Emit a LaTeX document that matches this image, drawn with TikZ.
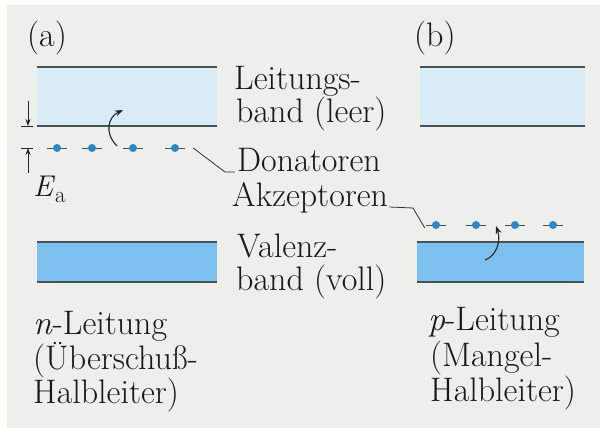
\documentclass[tikz,border=0pt]{standalone}
\usepackage{fontspec}
\usetikzlibrary{arrows.meta}

\definecolor{paper}{HTML}{EEEEEA}
\definecolor{leer}{HTML}{D8ECF8}
\definecolor{voll}{HTML}{7CC0F0}
\definecolor{niveau}{HTML}{2A88C8}
\definecolor{linie}{HTML}{4A5058}

\tikzset{
  txt/.style={anchor=base west, inner sep=0pt, text=black!90, font=\fontsize{34}{35}\selectfont},
  bandline/.style={draw=linie, line width=1.5pt},
  niveaustrich/.style={draw=linie, line width=0.9pt},
  dot/.style={circle, fill=niveau, inner sep=0pt, minimum size=8pt},
  hop/.style={draw=black!85, line width=1.1pt, -{Stealth[length=8pt, width=6pt]}},
  leader/.style={draw=black!80, line width=0.8pt},
  ea/.style={draw=black!85, line width=0.9pt},
}

\begin{document}
\begin{tikzpicture}[x=1pt, y=-1pt]
\useasboundingbox (0,0) rectangle (607,438);
\fill[white] (0,0) rectangle (607,438);
\fill[paper] (7,5) rectangle (600,428);

% (a) n-Leitung
\node[txt] (labela) at (27,47) {(a)};
\fill[leer] (37,67) rectangle (217,126);
\draw[bandline] (37,67) -- (217,67) (37,126) -- (217,126);
\fill[voll] (37,242) rectangle (217,282);
\draw[bandline] (37,242) -- (217,242) (37,282) -- (217,282);
\foreach \x [count=\i] in {57,92,133,175} {
  \draw[niveaustrich] (\x-10,148) -- (\x+10,148);
  \node[dot] (d\i) at (\x,148) {};
}
\coordinate (hopa1) at (117,146);
\coordinate (hopa2) at (123,110);
\draw[hop] (hopa1) .. controls (104,133) and (108,117) .. (hopa2);

% E_a
\draw[ea] (21,126) -- (33,126) (21,148) -- (33,148);
\coordinate (eatop) at (28,101);
\coordinate (eabot) at (28,173);
\draw[ea, -{Stealth[length=7pt, width=5pt]}] (eatop) -- (28,126);
\draw[ea, -{Stealth[length=7pt, width=5pt]}] (eabot) -- (28,148);
\node[txt, font=\fontsize{30}{31}\selectfont] (Ea) at (33,197) {\textit{E}\raisebox{-0.2em}{\fontsize{23}{24}\selectfont a}};

% labels in the middle
\node[txt] (leit1) at (234,90) {Leitungs-};
\node[txt] (leit2) at (236,123) {band (leer)};
\node[txt] (don) at (237,172) {Donatoren};
\node[txt] (akz) at (232,207) {Akzeptoren};
\node[txt] (val1) at (237,257) {Valenz-};
\node[txt] (val2) at (236,290) {band (voll)};

\coordinate (dknick) at (225,172);
\draw[leader] ([xshift=14pt]d4.east) -- (dknick) -- ([xshift=-2pt]don.base west);

\node[txt] (n1) at (33,334) {\textit{n}-Leitung};
\node[txt] (n2) at (33,369) {(Überschuß-};
\node[txt] (n3) at (33,403) {Halbleiter)};

% (b) p-Leitung
\node[txt] (labelb) at (414,47) {(b)};
\fill[leer] (420,67) rectangle (585,126);
\draw[bandline] (420,67) -- (585,67) (420,126) -- (585,126);
\fill[voll] (417,242) rectangle (584,282);
\draw[bandline] (417,242) -- (584,242) (417,282) -- (584,282);
\foreach \x [count=\i] in {436,476,515,553} {
  \draw[niveaustrich] (\x-10,225) -- (\x+10,225);
  \node[dot] (a\i) at (\x,225) {};
}
\coordinate (hopb1) at (485,260);
\coordinate (hopb2) at (496,226);
\draw[hop] (hopb1) .. controls (497,256) and (501,240) .. (hopb2);

\coordinate (aknick) at (413,208);
\draw[leader] ([xshift=1pt]akz.base east) -- (aknick) -- ([xshift=-7pt, yshift=-3pt]a1.west);

\node[txt] (p1) at (428,330) {\textit{p}-Leitung};
\node[txt] (p2) at (430,366) {(Mangel-};
\node[txt] (p3) at (430,401) {Halbleiter)};
\end{tikzpicture}
\end{document}
